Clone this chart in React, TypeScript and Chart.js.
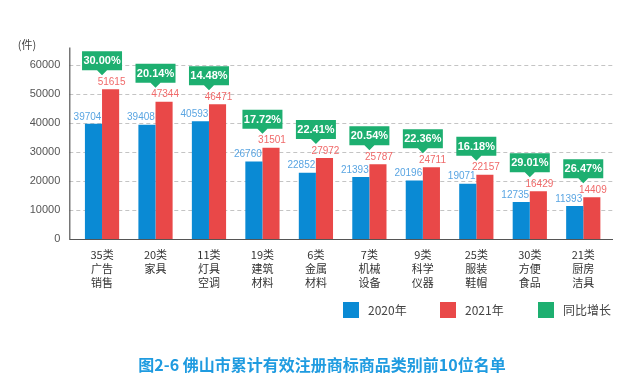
import React, { useEffect, useRef } from "react";
import { Chart, registerables } from "chart.js";

Chart.register(...registerables);

const categories: string[][] = [
  ["35类", "广告", "销售"],
  ["20类", "家具"],
  ["11类", "灯具", "空调"],
  ["19类", "建筑", "材料"],
  ["6类", "金属", "材料"],
  ["7类", "机械", "设备"],
  ["9类", "科学", "仪器"],
  ["25类", "服装", "鞋帽"],
  ["30类", "方便", "食品"],
  ["21类", "厨房", "洁具"],
];
const values2020 = [39704, 39408, 40593, 26760, 22852, 21393, 20196, 19071, 12735, 11393];
const values2021 = [51615, 47344, 46471, 31501, 27972, 25787, 24711, 22157, 16429, 14409];
const growth = [30.0, 20.14, 14.48, 17.72, 22.41, 20.54, 22.36, 16.18, 29.01, 26.47];
const yTicks = [0, 10000, 20000, 30000, 40000, 50000, 60000];
const seriesNames = ["2020年", "2021年", "同比增长"];
const unitLabel = "(件)";
const titleText = "图2-6 佛山市累计有效注册商标商品类别前10位名单";

const BLUE = "#0a8ad4";
const RED = "#e94848";
const GREEN = "#1daf70";
const FONT = '"Liberation Sans", "Noto Sans CJK SC", Arial, sans-serif';
const CJK = '"Noto Sans CJK SC", "Liberation Sans", sans-serif';

const decorPlugin = {
  id: "decor",
  beforeDatasetsDraw(chart: any) {
    const { ctx, chartArea } = chart;
    const y = chart.scales.y;
    const axisX = chartArea.left - 6;
    const rightX = chartArea.right + 3;
    ctx.save();
    ctx.strokeStyle = "#c4c4c4";
    ctx.lineWidth = 1;
    ctx.setLineDash([4, 3]);
    yTicks.forEach((v) => {
      if (v === 0) return;
      const py = Math.round(y.getPixelForValue(v)) + 0.5;
      ctx.beginPath();
      ctx.moveTo(axisX, py);
      ctx.lineTo(rightX, py);
      ctx.stroke();
    });
    ctx.setLineDash([]);
    ctx.strokeStyle = "#555";
    ctx.lineWidth = 1.2;
    const by = Math.round(chartArea.bottom) + 0.5;
    ctx.beginPath();
    ctx.moveTo(axisX + 0.5, chartArea.top);
    ctx.lineTo(axisX + 0.5, by);
    ctx.lineTo(rightX, by);
    ctx.stroke();
    ctx.restore();
  },
  afterDatasetsDraw(chart: any) {
    const { ctx } = chart;
    const m0 = chart.getDatasetMeta(0).data;
    const m1 = chart.getDatasetMeta(1).data;
    ctx.save();
    ctx.font = `10px ${FONT}`;
    ctx.textAlign = "center";
    ctx.textBaseline = "middle";
    m0.forEach((b: any, i: number) => {
      ctx.fillStyle = "#5aa5e2";
      ctx.fillText(String(values2020[i]), b.x - 6, b.y - 7);
    });
    m1.forEach((b: any, i: number) => {
      ctx.fillStyle = "#f06a6a";
      ctx.fillText(String(values2021[i]), b.x + 1, b.y - 7);
      const cx = (m0[i].x + b.x) / 2;
      const tip = b.y - 14;
      const bw = 40;
      const bh = 19;
      const bottom = tip - 5;
      const top = bottom - bh;
      ctx.fillStyle = GREEN;
      ctx.beginPath();
      ctx.moveTo(cx - bw / 2, top);
      ctx.lineTo(cx + bw / 2, top);
      ctx.lineTo(cx + bw / 2, bottom);
      ctx.lineTo(cx + 5, bottom);
      ctx.lineTo(cx, tip);
      ctx.lineTo(cx - 5, bottom);
      ctx.lineTo(cx - bw / 2, bottom);
      ctx.closePath();
      ctx.fill();
      ctx.fillStyle = "#ffffff";
      ctx.font = `bold 11px ${FONT}`;
      ctx.fillText(growth[i].toFixed(2) + "%", cx, (top + bottom) / 2 + 0.5);
      ctx.font = `10px ${FONT}`;
    });
    ctx.restore();
  },
  afterDraw(chart: any) {
    const { ctx } = chart;
    ctx.save();
    ctx.fillStyle = "#444";
    ctx.font = `11px ${CJK}`;
    ctx.textAlign = "center";
    ctx.textBaseline = "middle";
    ctx.fillText(unitLabel, 27, 45);
    const items = [
      { x: 343, color: BLUE, text: seriesNames[0] },
      { x: 440, color: RED, text: seriesNames[1] },
      { x: 538, color: GREEN, text: seriesNames[2] },
    ];
    ctx.textAlign = "left";
    ctx.font = `12px ${CJK}`;
    items.forEach((it) => {
      ctx.fillStyle = it.color;
      ctx.fillRect(it.x, 302, 16, 16);
      ctx.fillStyle = "#444";
      ctx.fillText(it.text, it.x + 25, 310);
    });
    ctx.textAlign = "center";
    ctx.fillStyle = "#1f9be0";
    ctx.font = `bold 16px ${CJK}`;
    ctx.fillText(titleText, 322, 365);
    ctx.restore();
  },
};

export default function App() {
  const ref = useRef<HTMLCanvasElement | null>(null);
  useEffect(() => {
    if (!ref.current) return;
    const chart = new Chart(ref.current, {
      type: "bar",
      data: {
        labels: categories,
        datasets: [
          {
            label: seriesNames[0],
            data: values2020,
            backgroundColor: BLUE,
            categoryPercentage: 0.64,
            barPercentage: 1,
          },
          {
            label: seriesNames[1],
            data: values2021,
            backgroundColor: RED,
            categoryPercentage: 0.64,
            barPercentage: 1,
          },
        ],
      },
      options: {
        animation: false,
        responsive: false,
        maintainAspectRatio: false,
        layout: { padding: { top: 47.6, right: 30, left: 0, bottom: 0 } },
        plugins: {
          legend: { display: false },
          tooltip: { enabled: false },
          title: { display: false },
        },
        scales: {
          x: {
            grid: { display: false, drawTicks: false },
            border: { display: false },
            ticks: {
              color: "#333",
              font: { size: 11, family: CJK, lineHeight: 1.27 },
              padding: 9,
              maxRotation: 0,
              autoSkip: false,
            },
            afterFit(scale: any) {
              scale.height = 140;
            },
          },
          y: {
            min: 0,
            max: 66000,
            grid: { display: false, drawTicks: false },
            border: { display: false },
            ticks: {
              stepSize: 10000,
              color: "#555",
              font: { size: 11, family: FONT },
              padding: 15,
              callback: (v: any) => String(v),
            },
            afterBuildTicks(scale: any) {
              scale.ticks = yTicks.map((v) => ({ value: v }));
            },
            afterFit(scale: any) {
              scale.width = 75.3;
            },
          },
        },
      },
      plugins: [decorPlugin],
    });
    return () => chart.destroy();
  }, []);
  return (
    <div style={{ position: "fixed", left: 0, top: 0, width: 640, height: 379, background: "#fff" }}>
      <canvas ref={ref} width={640} height={379} style={{ width: 640, height: 379, display: "block" }} />
    </div>
  );
}
